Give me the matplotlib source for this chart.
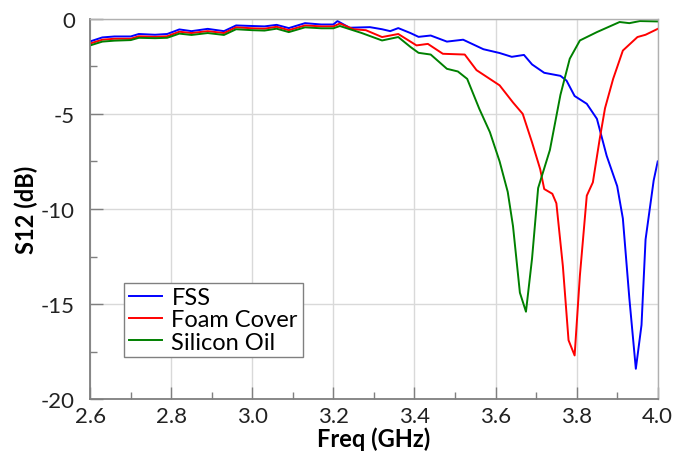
import matplotlib
matplotlib.use("Agg")
import matplotlib.pyplot as plt
from matplotlib.ticker import MultipleLocator

plt.rcParams['font.family'] = ['Lato', 'DejaVu Sans']
plt.rcParams['axes.unicode_minus'] = False

# FSS
freq_fss = [2.60, 2.63, 2.66, 2.70, 2.72, 2.76, 2.79, 2.82, 2.85, 2.89,
            2.93, 2.96, 3.00, 3.03, 3.06, 3.09, 3.13, 3.17, 3.20, 3.21,
            3.24, 3.29, 3.32, 3.34, 3.36, 3.39, 3.41, 3.44, 3.48, 3.52,
            3.57, 3.61, 3.64, 3.67, 3.69, 3.72, 3.76, 3.775, 3.795, 3.825,
            3.85, 3.874, 3.90, 3.914, 3.93, 3.946, 3.96, 3.97, 3.99, 4.00]
s12_fss = [-1.19, -0.98, -0.93, -0.93, -0.80, -0.84, -0.80, -0.56, -0.65, -0.53,
           -0.65, -0.35, -0.38, -0.40, -0.32, -0.49, -0.23, -0.30, -0.30, -0.12,
           -0.47, -0.44, -0.55, -0.65, -0.49, -0.75, -0.95, -0.88, -1.2, -1.1,
           -1.6, -1.8, -2.0, -1.9, -2.4, -2.84, -3.0, -3.25, -4.06, -4.47,
           -5.26, -7.2, -8.8, -10.5, -14.7, -18.4, -16.1, -11.6, -8.5, -7.5]

# Foam Cover
freq_foam = [2.60, 2.63, 2.66, 2.70, 2.72, 2.76, 2.79, 2.82, 2.85, 2.89,
             2.93, 2.96, 3.00, 3.03, 3.06, 3.09, 3.13, 3.17, 3.20, 3.216,
             3.25, 3.28, 3.32, 3.36, 3.405, 3.433, 3.47, 3.524, 3.553, 3.61,
             3.643, 3.667, 3.69, 3.71, 3.72, 3.74, 3.75, 3.766, 3.78, 3.795,
             3.808, 3.825, 3.84, 3.857, 3.87, 3.89, 3.914, 3.95, 3.97, 4.00]
s12_foam = [-1.30, -1.10, -1.05, -1.05, -0.92, -0.95, -0.92, -0.68, -0.75, -0.65,
            -0.75, -0.45, -0.50, -0.52, -0.42, -0.60, -0.35, -0.40, -0.40, -0.25,
            -0.55, -0.60, -0.96, -0.80, -1.40, -1.32, -1.84, -1.88, -2.70, -3.50,
            -4.40, -5.00, -6.50, -7.90, -8.95, -9.20, -9.70, -13.0, -16.9, -17.7,
            -13.5, -9.3, -8.6, -6.3, -4.7, -3.16, -1.67, -0.96, -0.84, -0.53]

# Silicon Oil
freq_oil = [2.60, 2.63, 2.66, 2.70, 2.72, 2.76, 2.79, 2.82, 2.85, 2.89,
            2.93, 2.96, 3.00, 3.03, 3.06, 3.09, 3.13, 3.17, 3.20, 3.216,
            3.27, 3.32, 3.36, 3.39, 3.41, 3.44, 3.48, 3.507, 3.53, 3.56,
            3.586, 3.61, 3.63, 3.643, 3.66, 3.675, 3.69, 3.705, 3.734, 3.76,
            3.783, 3.808, 3.85, 3.906, 3.93, 3.956, 4.00]
s12_oil = [-1.40, -1.20, -1.15, -1.12, -1.00, -1.02, -1.00, -0.78, -0.85, -0.75,
           -0.85, -0.55, -0.60, -0.62, -0.52, -0.70, -0.45, -0.50, -0.50, -0.38,
           -0.75, -1.14, -0.96, -1.48, -1.79, -1.88, -2.63, -2.77, -3.16, -4.74,
           -5.96, -7.5, -9.1, -10.9, -14.4, -15.4, -12.6, -8.9, -6.9, -4.0,
           -2.1, -1.14, -0.7, -0.17, -0.23, -0.12, -0.14]

fig = plt.figure(figsize=(6.83, 4.6), dpi=100)
ax = fig.add_axes([0.132, 0.130, 0.831, 0.827])

ax.plot(freq_fss, s12_fss, color='#0000ff', lw=1.4, label='FSS')
ax.plot(freq_foam, s12_foam, color='#ff0000', lw=1.4, label='Foam Cover')
ax.plot(freq_oil, s12_oil, color='#008000', lw=1.4, label='Silicon Oil')

ax.set_xlim(2.6, 4.0)
ax.set_ylim(-20, 0)
ax.xaxis.set_minor_locator(MultipleLocator(0.1))
ax.yaxis.set_minor_locator(MultipleLocator(2.5))
ax.set_xticks([2.6, 2.8, 3.0, 3.2, 3.4, 3.6, 3.8, 4.0])
ax.set_xticklabels(['2.6', '2.8', '3.0', '3.2', '3.4', '3.6', '3.8', '4.0'])
ax.set_yticks([0, -5, -10, -15, -20])
ax.set_yticklabels(['0', '-5', '-10', '-15', '-20'])

ax.grid(True, which='major', color='#d9d9d9', lw=1)
ax.tick_params(which='both', direction='in', colors='#7f7f7f', labelcolor='#222222', labelsize=16)
ax.tick_params(which='major', length=9, width=1)
ax.tick_params(which='minor', length=5, width=1)
ax.tick_params(axis='y', pad=11)
ax.tick_params(axis='x', pad=5)

for side in ['left', 'bottom']:
    ax.spines[side].set_color('#7f7f7f')
    ax.spines[side].set_linewidth(1.3)
for side in ['top', 'right']:
    ax.spines[side].set_color('#b0b0b0')
    ax.spines[side].set_linewidth(1.0)

ax.set_xlabel('Freq (GHz)', fontsize=17, fontweight='bold', labelpad=0)
ax.set_ylabel('S12 (dB)', fontsize=17, fontweight='bold', labelpad=2)

leg = ax.legend(loc='lower left', bbox_to_anchor=(0.06, 0.11), fontsize=17,
                fancybox=False, framealpha=1, edgecolor='#808080',
                handlelength=1.4, handletextpad=0.4, borderpad=0.2,
                labelspacing=0.05, borderaxespad=0)
leg.get_frame().set_linewidth(1.0)

plt.savefig('out.png', dpi=100)
